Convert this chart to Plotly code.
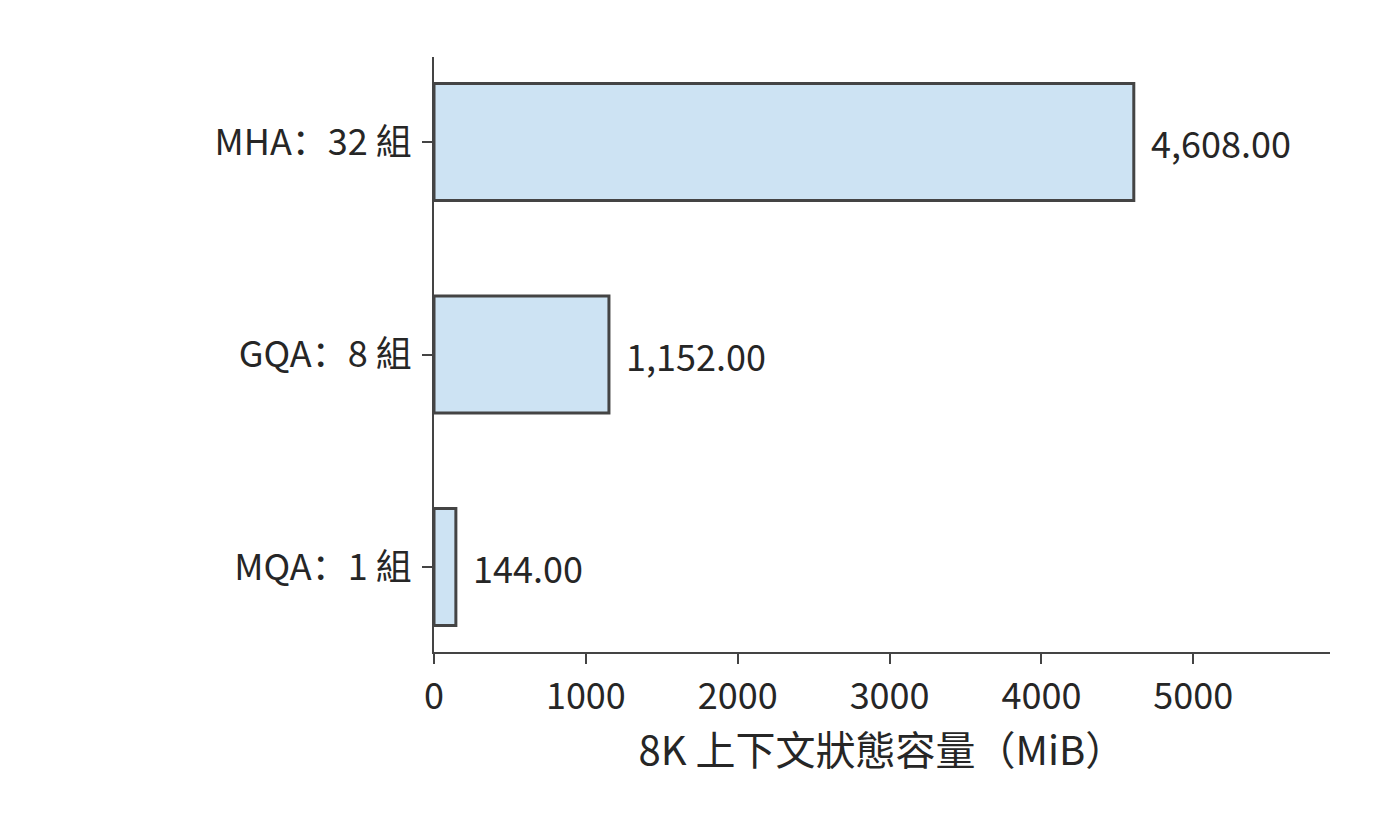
import plotly.graph_objects as go

# ── Data ──────────────────────────────────────────────────────────────────────
CATEGORIES = ['MQA：1 組', 'GQA：8 組', 'MHA：32 組']
CACHE_MIB  = [144.00, 1152.00, 4608.00]
X_TICKS    = [0, 1000, 2000, 3000, 4000, 5000]

FONT      = 'Noto Sans CJK SC'
TEXT_COL  = '#262626'
EDGE_COL  = '#444444'
FILL_COL  = '#cde3f3'
FS        = 36

fig = go.Figure()

fig.add_trace(go.Bar(
    x=CACHE_MIB, y=CATEGORIES,
    orientation='h',
    width=0.55,
    marker=dict(color=FILL_COL, line=dict(color=EDGE_COL, width=3)),
    hoverinfo='skip',
))

# value labels just right of each bar
for cat, val in zip(CATEGORIES, CACHE_MIB):
    fig.add_annotation(
        x=val, y=cat, text=f'{val:,.2f}',
        showarrow=False, xanchor='left', yanchor='middle',
        xshift=15, font=dict(family=FONT, size=FS, color=TEXT_COL),
    )

fig.update_layout(
    width=1400, height=816,
    paper_bgcolor='white', plot_bgcolor='white',
    margin=dict(l=426, r=78, t=49, b=172),
    showlegend=False,
    font=dict(family=FONT, size=FS, color=TEXT_COL),
    xaxis=dict(
        range=[0, 5900],
        tickvals=X_TICKS,
        ticktext=[str(t) for t in X_TICKS],
        ticks='outside', ticklen=10, tickwidth=2, tickcolor=EDGE_COL,
        showline=True, linecolor=EDGE_COL, linewidth=2,
        showgrid=False, zeroline=False,
        ticklabelstandoff=2,
        title=dict(text='8K 上下文狀態容量（MiB）', standoff=4,
                   font=dict(family=FONT, size=40, color=TEXT_COL)),
        tickfont=dict(family=FONT, size=FS, color=TEXT_COL),
    ),
    yaxis=dict(
        range=[-0.4, 2.4],
        ticks='outside', ticklen=10, tickwidth=2, tickcolor=EDGE_COL,
        showline=True, linecolor=EDGE_COL, linewidth=2,
        showgrid=False, zeroline=False,
        ticklabelstandoff=3,
        tickfont=dict(family=FONT, size=FS, color=TEXT_COL),
    ),
)

fig.write_html('out.html')
